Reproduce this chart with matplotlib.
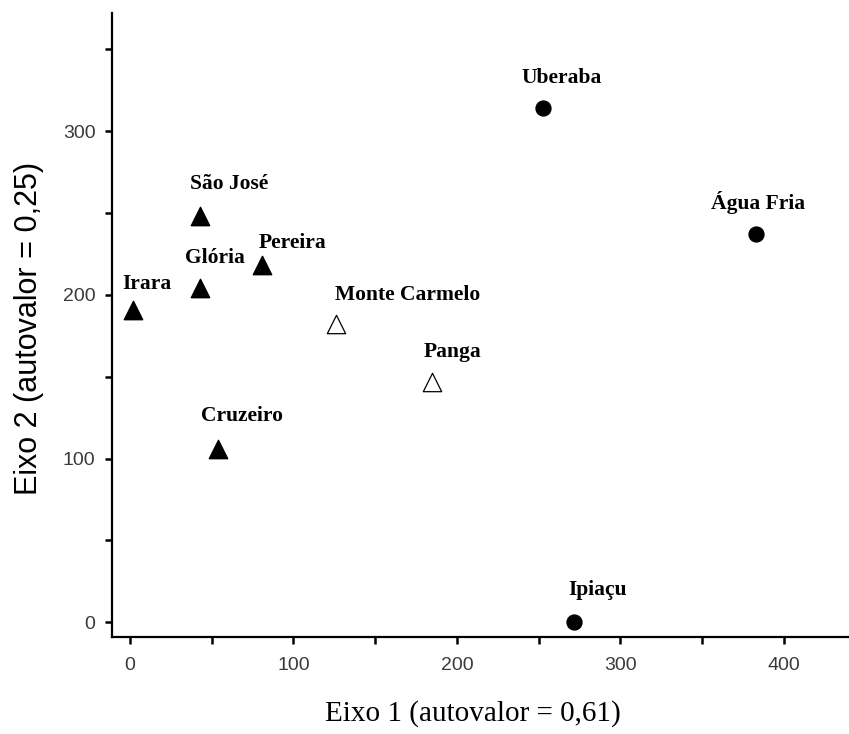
import matplotlib.pyplot as plt

# dados
locais = ['Irara', 'Glória', 'São José', 'Pereira', 'Cruzeiro',
          'Monte Carmelo', 'Panga', 'Uberaba', 'Água Fria', 'Ipiaçu']
eixo1 = [2, 43, 43, 81, 54, 126, 185, 253, 383, 272]
eixo2 = [191, 204, 248, 218, 106, 182, 147, 314, 237, 0]
grupo = ['A', 'A', 'A', 'A', 'A', 'B', 'B', 'C', 'C', 'C']

# deslocamento dos rotulos (pixels)
desloc = [(14, 26), (15, 30), (29, 32), (30, 22), (24, 33),
          (72, 29), (20, 30), (18, 30), (2, 32), (23, 32)]

estilos = {
    'A': dict(marker='^', s=175, facecolor='black', edgecolor='black'),
    'B': dict(marker='^', s=175, facecolor='white', edgecolor='black', linewidth=0.9),
    'C': dict(marker='o', s=115, facecolor='black', edgecolor='black'),
}

fig = plt.figure(figsize=(8.49, 7.34), dpi=100)
ax = fig.add_axes([0.132, 0.132, 0.868, 0.85])

for g, st in estilos.items():
    xs = [x for x, gg in zip(eixo1, grupo) if gg == g]
    ys = [y for y, gg in zip(eixo2, grupo) if gg == g]
    ax.scatter(xs, ys, zorder=5, clip_on=False, **st)

for nome, x, y, (dx, dy) in zip(locais, eixo1, eixo2, desloc):
    ax.annotate(nome, (x, y), xytext=(dx, dy), textcoords='offset pixels',
                ha='center', va='center', fontsize=15.5, fontweight='bold',
                family='Liberation Serif')

ax.set_xlim(-11, 440)
ax.set_ylim(-9, 372)
ax.set_xticks(range(0, 450, 50))
ax.set_xticklabels([str(v) if v % 100 == 0 else '' for v in range(0, 450, 50)])
ax.set_yticks(range(0, 400, 50))
ax.set_yticklabels([str(v) if v % 100 == 0 else '' for v in range(0, 400, 50)])

for lado in ['top', 'right']:
    ax.spines[lado].set_visible(False)
for lado in ['left', 'bottom']:
    ax.spines[lado].set_linewidth(1.6)
ax.tick_params(direction='out', length=5, width=1.8, labelsize=14,
               labelcolor='#3a3a3a')
ax.tick_params(axis='x', pad=9)
ax.tick_params(axis='y', pad=7)
for lbl in ax.get_xticklabels() + ax.get_yticklabels():
    lbl.set_family('Liberation Sans')

ax.set_xlabel('Eixo 1 (autovalor = 0,61)', fontsize=21, family='Liberation Serif')
ax.xaxis.set_label_coords(0.489, -0.101)
ax.set_ylabel('Eixo 2 (autovalor = 0,25)', fontsize=22, family='Liberation Sans')
ax.yaxis.set_label_coords(-0.092, 0.495)

plt.savefig('out.png', dpi=100)
